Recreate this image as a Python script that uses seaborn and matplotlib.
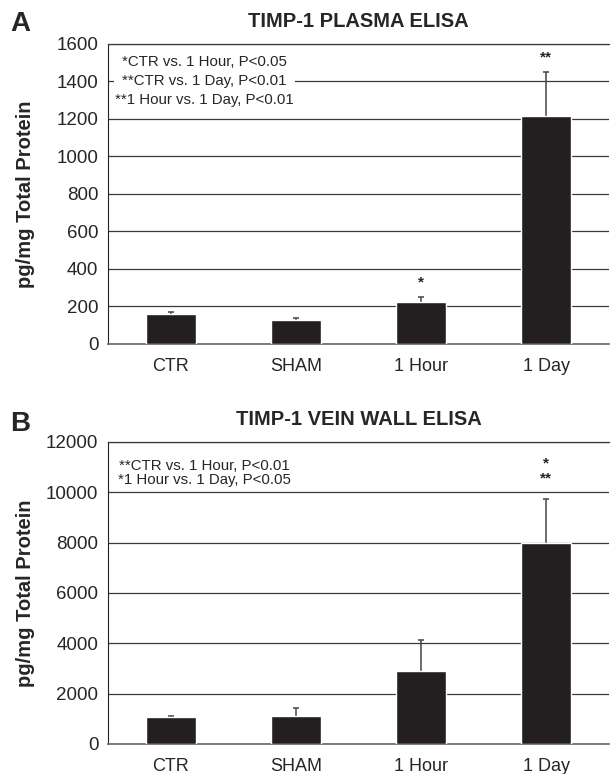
import pandas as pd
import matplotlib
matplotlib.use("Agg")
import matplotlib.pyplot as plt
from matplotlib.ticker import FixedLocator
import seaborn as sns

sns.set_style("white")
plt.rcParams['font.family'] = ['Liberation Sans', 'DejaVu Sans']

groups = ['CTR', 'SHAM', '1 Hour', '1 Day']

plasma_mean = [160, 128, 225, 1216]
plasma_err = [12, 12, 25, 232]
plasma_stars = ['', '', '*', '**']

wall_mean = [1070, 1095, 2890, 8000]
wall_err = [40, 345, 1230, 1720]
wall_stars = ['', '', '', '*\n**']

plasma_note = "*CTR vs. 1 Hour, P<0.05\n**CTR vs. 1 Day, P<0.01\n**1 Hour vs. 1 Day, P<0.01"
wall_note = "**CTR vs. 1 Hour, P<0.01\n*1 Hour vs. 1 Day, P<0.05"

bar_color = '#231f20'
grid_color = '#3a3a3a'

fig = plt.figure(figsize=(6.11, 7.74), dpi=100)
ax_a = fig.add_axes([0.1768, 0.5556, 0.8199, 0.3876])
ax_b = fig.add_axes([0.1768, 0.0388, 0.8199, 0.3902])


def draw_panel(ax, means, errs, stars, ymax, ystep, title, letter, letter_y,
               note, note_y, note_ls, star_gap):
    df = pd.DataFrame({'group': groups, 'value': means})
    sns.barplot(data=df, x='group', y='value', color=bar_color, width=0.4,
                saturation=1, errorbar=None, ax=ax, zorder=3)
    xs = list(range(len(groups)))
    eb = ax.errorbar(xs, means, yerr=[[0] * len(errs), errs], fmt='none',
                     ecolor='#444444', elinewidth=1.1, capsize=2, capthick=1.1, zorder=2.5)
    # only the upper cap is shown, like the original
    eb[1][0].set_visible(False)
    for x, m, e, s in zip(xs, means, errs, stars):
        if s:
            ax.text(x, m + e + star_gap, s, ha='center', va='bottom', fontsize=11,
                    linespacing=1.05, fontweight='bold', zorder=5)
    ax.set_xlim(-0.5, len(groups) - 0.5)
    ax.set_ylim(0, ymax)
    ax.set_yticks(range(0, ymax + 1, ystep))
    ax.yaxis.grid(True, color=grid_color, linewidth=0.9)
    ax.set_axisbelow(True)
    ax.xaxis.set_minor_locator(FixedLocator([i - 0.5 for i in range(len(groups) + 1)]))
    ax.tick_params(axis='x', which='major', length=0, pad=10, labelsize=13)
    ax.tick_params(axis='x', which='minor', length=4, width=1, color='#666666', direction='out')
    ax.tick_params(axis='y', which='major', length=4, width=1, color='#333333',
                   direction='out', labelsize=13.5, pad=3)
    ax.set_xlabel('')
    ax.set_ylabel('')
    ax.text(-0.165, 0.5, 'pg/mg Total Protein', transform=ax.transAxes, rotation=90,
            ha='center', va='center', fontsize=14.5, fontweight='bold')
    ax.set_title(title, fontsize=14.5, fontweight='bold', pad=12)
    ax.spines['right'].set_visible(False)
    ax.spines['top'].set_color(grid_color)
    ax.spines['top'].set_linewidth(0.9)
    ax.spines['left'].set_color('#222222')
    ax.spines['bottom'].set_color('#666666')
    ax.spines['bottom'].set_linewidth(1.2)
    ax.text(0.193, note_y, note, transform=ax.transAxes, ha='center', va='center',
            fontsize=10.8, linespacing=note_ls, zorder=6,
            bbox=dict(facecolor='white', edgecolor='none', pad=1))
    fig.text(10 / 611, letter_y, letter, ha='left', va='center',
             fontsize=20, fontweight='bold')


draw_panel(ax_a, plasma_mean, plasma_err, plasma_stars, 1600, 200,
           'TIMP-1 PLASMA ELISA', 'A', 1 - 24 / 774, plasma_note, 0.878, 1.45, 40)
draw_panel(ax_b, wall_mean, wall_err, wall_stars, 12000, 2000,
           'TIMP-1 VEIN WALL ELISA', 'B', 1 - 424 / 774, wall_note, 0.897, 1.05, 550)

fig.savefig('out.png', dpi=100)
